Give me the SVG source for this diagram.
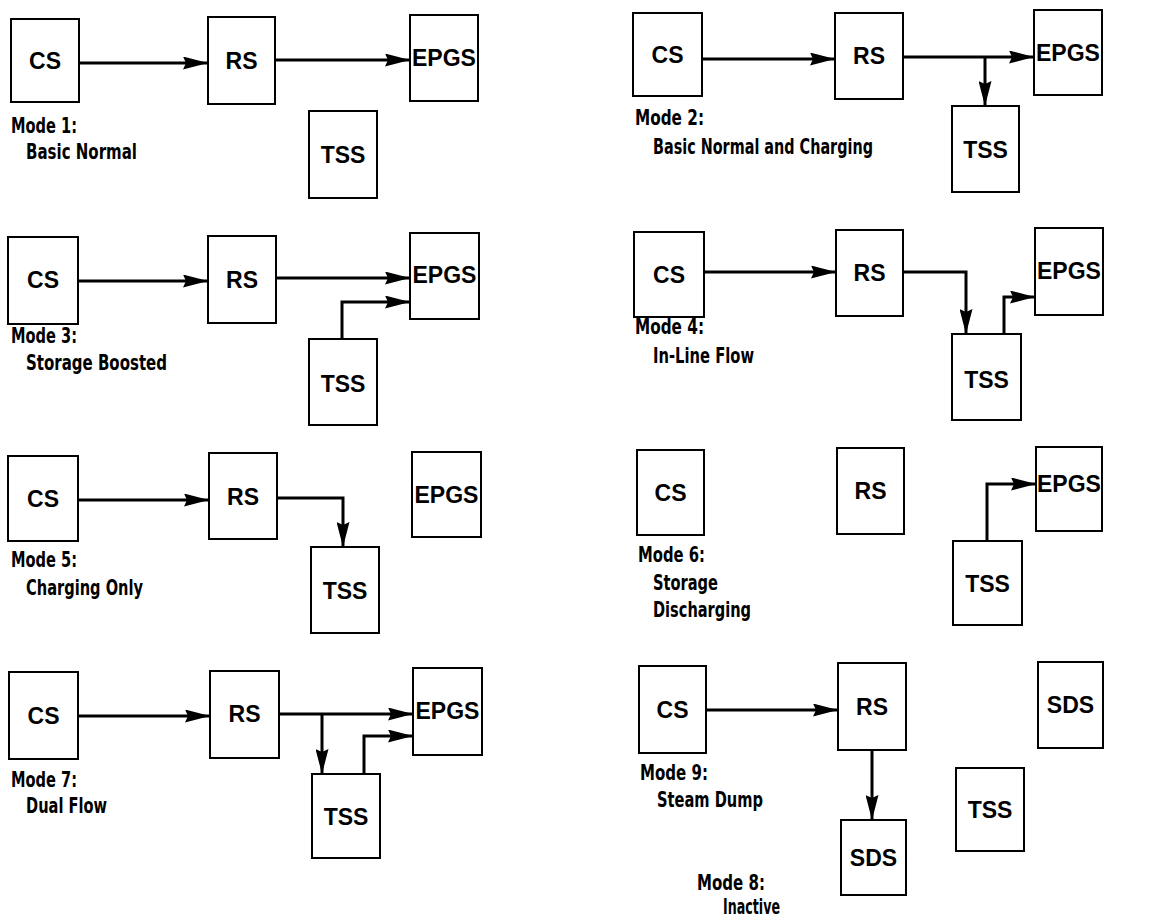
<svg xmlns="http://www.w3.org/2000/svg" width="1169" height="920" viewBox="0 0 1169 920">
<style>
.box{fill:#fff;stroke:#000;stroke-width:2}
.lbl{font-family:"Liberation Sans",Arial,sans-serif;font-weight:bold;font-size:23px;text-anchor:middle;fill:#000}
.mode{font-family:"DejaVu Sans Condensed","DejaVu Sans",sans-serif;font-weight:bold;font-size:22px;fill:#000}
.ln{fill:none;stroke:#000;stroke-width:3;stroke-linejoin:miter}
</style>
<defs>
<marker id="ah" markerUnits="userSpaceOnUse" markerWidth="26" markerHeight="13" refX="25" refY="6.5" orient="auto" viewBox="0 0 26 13">
<path d="M0,0 L25,6.5 L0,13 L3,6.5 z" fill="#000"/>
</marker>
</defs>
<rect width="1169" height="920" fill="#fff"/>

<g id="connectors">
<path class="ln" d="M79,63 H208" marker-end="url(#ah)"/>
<path class="ln" d="M275,60 H410" marker-end="url(#ah)"/>
<path class="ln" d="M702,59 H835" marker-end="url(#ah)"/>
<path class="ln" d="M903,57 H1034" marker-end="url(#ah)"/>
<path class="ln" d="M985,57 V106" marker-end="url(#ah)"/>
<path class="ln" d="M78,281 H208" marker-end="url(#ah)"/>
<path class="ln" d="M276,278 H410" marker-end="url(#ah)"/>
<path class="ln" d="M342,339 V302 H410" marker-end="url(#ah)"/>
<path class="ln" d="M704,272 H836" marker-end="url(#ah)"/>
<path class="ln" d="M903,272 H966 V334" marker-end="url(#ah)"/>
<path class="ln" d="M1004,334 V297 H1035" marker-end="url(#ah)"/>
<path class="ln" d="M78,500 H209" marker-end="url(#ah)"/>
<path class="ln" d="M277,498 H343 V547" marker-end="url(#ah)"/>
<path class="ln" d="M987,541 V484 H1036" marker-end="url(#ah)"/>
<path class="ln" d="M78,716 H210" marker-end="url(#ah)"/>
<path class="ln" d="M279,714 H413" marker-end="url(#ah)"/>
<path class="ln" d="M322,714 V774" marker-end="url(#ah)"/>
<path class="ln" d="M364,774 V736 H413" marker-end="url(#ah)"/>
<path class="ln" d="M706,710 H838" marker-end="url(#ah)"/>
<path class="ln" d="M872,750 V820" marker-end="url(#ah)"/>
</g>

<!-- Mode 1 -->
<g id="m1-cs"><rect class="box" x="11" y="19" width="68" height="83"/><text class="lbl" x="45" y="69">CS</text></g>
<g id="m1-rs"><rect class="box" x="208" y="17" width="67" height="87"/><text class="lbl" x="241.5" y="69">RS</text></g>
<g id="m1-epgs"><rect class="box" x="410" y="15" width="68" height="86"/><text class="lbl" x="444" y="66">EPGS</text></g>
<g id="m1-tss"><rect class="box" x="309" y="111" width="68" height="87"/><text class="lbl" x="343" y="163">TSS</text></g>
<g id="m1-label"><text class="mode" x="11" y="133" textLength="66" lengthAdjust="spacingAndGlyphs">Mode 1:</text><text class="mode" x="26" y="159" textLength="111" lengthAdjust="spacingAndGlyphs">Basic Normal</text></g>

<!-- Mode 2 -->
<g id="m2-cs"><rect class="box" x="633" y="13" width="69" height="83"/><text class="lbl" x="667.5" y="63">CS</text></g>
<g id="m2-rs"><rect class="box" x="835" y="13" width="68" height="86"/><text class="lbl" x="869" y="64">RS</text></g>
<g id="m2-epgs"><rect class="box" x="1034" y="10" width="68" height="85"/><text class="lbl" x="1068" y="61">EPGS</text></g>
<g id="m2-tss"><rect class="box" x="952" y="106" width="67" height="86"/><text class="lbl" x="985.5" y="158">TSS</text></g>
<g id="m2-label"><text class="mode" x="635" y="125" textLength="69" lengthAdjust="spacingAndGlyphs">Mode 2:</text><text class="mode" x="653" y="154" textLength="220" lengthAdjust="spacingAndGlyphs">Basic Normal and Charging</text></g>

<!-- Mode 3 -->
<g id="m3-cs"><rect class="box" x="8" y="237" width="70" height="87"/><text class="lbl" x="43" y="288">CS</text></g>
<g id="m3-rs"><rect class="box" x="208" y="236" width="68" height="87"/><text class="lbl" x="242" y="288">RS</text></g>
<g id="m3-epgs"><rect class="box" x="410" y="233" width="69" height="86"/><text class="lbl" x="444.5" y="283">EPGS</text></g>
<g id="m3-tss"><rect class="box" x="309" y="339" width="68" height="86"/><text class="lbl" x="343" y="392">TSS</text></g>
<g id="m3-label"><text class="mode" x="11" y="343" textLength="66" lengthAdjust="spacingAndGlyphs">Mode 3:</text><text class="mode" x="26" y="370" textLength="141" lengthAdjust="spacingAndGlyphs">Storage Boosted</text></g>

<!-- Mode 4 -->
<g id="m4-cs"><rect class="box" x="634" y="232" width="70" height="85"/><text class="lbl" x="669" y="283">CS</text></g>
<g id="m4-rs"><rect class="box" x="836" y="230" width="67" height="86"/><text class="lbl" x="869.5" y="281">RS</text></g>
<g id="m4-epgs"><rect class="box" x="1035" y="228" width="68" height="87"/><text class="lbl" x="1069" y="279">EPGS</text></g>
<g id="m4-tss"><rect class="box" x="952" y="334" width="69" height="86"/><text class="lbl" x="986.5" y="388">TSS</text></g>
<g id="m4-label"><text class="mode" x="635" y="334" textLength="69" lengthAdjust="spacingAndGlyphs">Mode 4:</text><text class="mode" x="653" y="363" textLength="101" lengthAdjust="spacingAndGlyphs">In-Line Flow</text></g>

<!-- Mode 5 -->
<g id="m5-cs"><rect class="box" x="8" y="456" width="70" height="85"/><text class="lbl" x="43" y="507">CS</text></g>
<g id="m5-rs"><rect class="box" x="209" y="453" width="68" height="86"/><text class="lbl" x="243" y="505">RS</text></g>
<g id="m5-epgs"><rect class="box" x="412" y="452" width="69" height="85"/><text class="lbl" x="446.5" y="503">EPGS</text></g>
<g id="m5-tss"><rect class="box" x="311" y="547" width="68" height="86"/><text class="lbl" x="345" y="599">TSS</text></g>
<g id="m5-label"><text class="mode" x="11" y="567" textLength="66" lengthAdjust="spacingAndGlyphs">Mode 5:</text><text class="mode" x="26" y="595" textLength="117" lengthAdjust="spacingAndGlyphs">Charging Only</text></g>

<!-- Mode 6 -->
<g id="m6-cs"><rect class="box" x="637" y="450" width="67" height="85"/><text class="lbl" x="670.5" y="501">CS</text></g>
<g id="m6-rs"><rect class="box" x="837" y="448" width="67" height="86"/><text class="lbl" x="870.5" y="499">RS</text></g>
<g id="m6-epgs"><rect class="box" x="1036" y="447" width="66" height="84"/><text class="lbl" x="1069" y="492">EPGS</text></g>
<g id="m6-tss"><rect class="box" x="953" y="541" width="69" height="84"/><text class="lbl" x="987.5" y="592">TSS</text></g>
<g id="m6-label"><text class="mode" x="638" y="562" textLength="67" lengthAdjust="spacingAndGlyphs">Mode 6:</text><text class="mode" x="653" y="590" textLength="65" lengthAdjust="spacingAndGlyphs">Storage</text><text class="mode" x="653" y="617" textLength="98" lengthAdjust="spacingAndGlyphs">Discharging</text></g>

<!-- Mode 7 -->
<g id="m7-cs"><rect class="box" x="9" y="672" width="69" height="87"/><text class="lbl" x="43.5" y="724">CS</text></g>
<g id="m7-rs"><rect class="box" x="210" y="671" width="69" height="87"/><text class="lbl" x="244.5" y="722">RS</text></g>
<g id="m7-epgs"><rect class="box" x="413" y="668" width="69" height="87"/><text class="lbl" x="447.5" y="719">EPGS</text></g>
<g id="m7-tss"><rect class="box" x="312" y="774" width="68" height="84"/><text class="lbl" x="346" y="825">TSS</text></g>
<g id="m7-label"><text class="mode" x="11" y="787" textLength="66" lengthAdjust="spacingAndGlyphs">Mode 7:</text><text class="mode" x="26" y="813" textLength="81" lengthAdjust="spacingAndGlyphs">Dual Flow</text></g>

<!-- Mode 9 / Mode 8 -->
<g id="m9-cs"><rect class="box" x="639" y="666" width="67" height="87"/><text class="lbl" x="672.5" y="718">CS</text></g>
<g id="m9-rs"><rect class="box" x="838" y="663" width="68" height="87"/><text class="lbl" x="872" y="715">RS</text></g>
<g id="m9-sds"><rect class="box" x="841" y="820" width="65" height="75"/><text class="lbl" x="873.5" y="866">SDS</text></g>
<g id="m8-sds"><rect class="box" x="1038" y="662" width="65" height="86"/><text class="lbl" x="1070.5" y="713">SDS</text></g>
<g id="m8-tss"><rect class="box" x="956" y="768" width="68" height="83"/><text class="lbl" x="990" y="818">TSS</text></g>
<g id="m9-label"><text class="mode" x="640" y="780" textLength="68" lengthAdjust="spacingAndGlyphs">Mode 9:</text><text class="mode" x="657" y="807" textLength="106" lengthAdjust="spacingAndGlyphs">Steam Dump</text></g>
<g id="m8-label"><text class="mode" x="697" y="890" font-size="21" textLength="68" lengthAdjust="spacingAndGlyphs">Mode 8:</text><text class="mode" x="723" y="914" font-size="20" textLength="57" lengthAdjust="spacingAndGlyphs">Inactive</text></g>
</svg>
